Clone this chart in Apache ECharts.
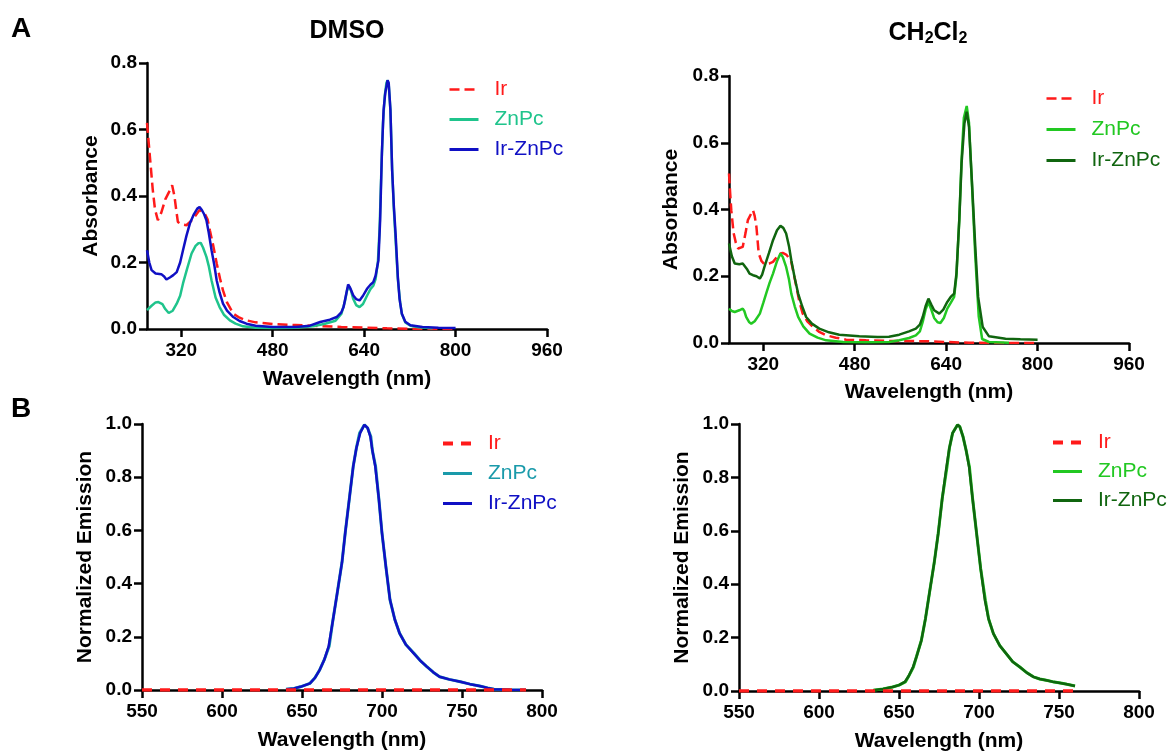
<!DOCTYPE html>
<html>
<head>
<meta charset="utf-8">
<script src="https://cdn.jsdelivr.net/npm/echarts@6/dist/echarts.min.js"></script>
<style>
  html, body { margin: 0; padding: 0; background: #fff; }
  #chart { width: 1170px; height: 753px; }
</style>
</head>
<body>
<div id="chart"></div>
<script>
// ---------- Absorbance, DMSO ----------
const absDmsoIrX = [260,263,266,270,274,279,285,292,298,304,308,311,314,320,329,340,352,360,366,370,376,382,388,393,400,411,422,434,450,480,520,560,600,640,680,720,760,800];
const absDmsoIrY = [0.62,0.56,0.50,0.42,0.36,0.327,0.35,0.39,0.41,0.432,0.40,0.36,0.322,0.315,0.312,0.33,0.358,0.35,0.33,0.297,0.25,0.197,0.15,0.116,0.08,0.046,0.034,0.026,0.02,0.015,0.012,0.009,0.006,0.004,0.002,0.001,0.0,0.0];

const absDmsoZnX = [260,268,275,280,287,292,298,305,312,318,323,330,338,345,350,354,358,364,368,373,380,387,395,405,415,428,450,480,520,550,570,590,600,606,610,613,617,621,626,632,638,645,651,656,660,664,667,670,673,676,679,681,683,686,689,692,695,699,703,706,712,721,735,760];
const absDmsoZnY = [0.057,0.07,0.08,0.081,0.075,0.06,0.048,0.055,0.076,0.1,0.137,0.18,0.227,0.25,0.258,0.259,0.245,0.217,0.19,0.146,0.095,0.066,0.042,0.026,0.016,0.008,0.004,0.003,0.004,0.008,0.015,0.025,0.045,0.08,0.115,0.13,0.115,0.09,0.072,0.066,0.075,0.1,0.12,0.13,0.15,0.2,0.3,0.47,0.62,0.7,0.74,0.748,0.735,0.66,0.48,0.36,0.27,0.15,0.08,0.045,0.02,0.01,0.005,0.002];

const absDmsoIrZnX = [260,264,268,275,285,290,294,300,306,312,318,323,329,335,342,348,352,356,360,364,368,373,378,382,387,393,400,411,422,434,450,480,520,545,563,580,592,600,604,608,612,616,621,626,632,638,645,651,656,660,665,668,671,674,677,681,683,686,689,692,695,699,702,706,712,721,742,770,800];
const absDmsoIrZnY = [0.237,0.2,0.177,0.167,0.165,0.158,0.149,0.155,0.162,0.171,0.2,0.237,0.28,0.317,0.345,0.362,0.367,0.358,0.345,0.327,0.29,0.237,0.19,0.146,0.11,0.076,0.055,0.036,0.024,0.016,0.01,0.006,0.006,0.01,0.021,0.028,0.036,0.05,0.066,0.1,0.134,0.122,0.101,0.09,0.086,0.1,0.121,0.133,0.141,0.16,0.207,0.327,0.527,0.658,0.71,0.748,0.74,0.658,0.477,0.37,0.287,0.156,0.09,0.046,0.022,0.011,0.006,0.004,0.003];

// ---------- Absorbance, CH2Cl2 ----------
const absDcmIrX = [260,262,264,268,272,276,284,289,293,298,302,305,308,312,317,322,330,337,345,350,354,360,365,369,373,378,383,389,397,407,418,430,447,465,500,540,580,610,640,680,720,760,800];
const absDcmIrY = [0.508,0.45,0.398,0.33,0.3,0.283,0.288,0.33,0.368,0.385,0.398,0.38,0.348,0.268,0.245,0.236,0.238,0.243,0.26,0.268,0.27,0.265,0.255,0.243,0.21,0.168,0.125,0.088,0.065,0.048,0.033,0.023,0.016,0.01,0.008,0.006,0.006,0.005,0.003,0.001,0.0,0.0,0.0];

const absDcmZnX = [260,265,270,278,284,287,290,295,299,305,314,320,325,331,337,344,350,354,360,365,369,375,381,390,401,415,430,460,500,540,558,575,587,594,599,604,609,614,619,625,630,636,642,648,654,658,663,667,671,676,680,685,691,697,703,715,750];
const absDcmZnY = [0.103,0.096,0.093,0.098,0.103,0.095,0.078,0.063,0.058,0.065,0.088,0.12,0.148,0.18,0.208,0.245,0.268,0.258,0.228,0.19,0.148,0.11,0.078,0.05,0.028,0.016,0.008,0.003,0.002,0.003,0.008,0.015,0.023,0.035,0.063,0.1,0.123,0.1,0.075,0.062,0.06,0.075,0.103,0.12,0.138,0.2,0.37,0.55,0.675,0.71,0.66,0.48,0.26,0.08,0.012,0.003,0.001];

const absDcmIrZnX = [260,265,270,278,284,287,292,296,302,308,314,318,322,330,337,344,350,355,360,365,369,375,381,388,395,405,418,435,453,488,520,540,558,575,587,594,599,604,609,614,619,628,635,642,648,654,658,663,667,672,676,680,685,691,696,704,715,744,770,800];
const absDcmIrZnY = [0.298,0.26,0.238,0.236,0.238,0.236,0.22,0.208,0.203,0.2,0.193,0.205,0.228,0.27,0.308,0.338,0.351,0.345,0.328,0.29,0.248,0.195,0.148,0.11,0.078,0.058,0.043,0.032,0.025,0.02,0.018,0.019,0.025,0.035,0.043,0.055,0.078,0.11,0.133,0.115,0.098,0.088,0.1,0.123,0.138,0.148,0.208,0.368,0.538,0.658,0.693,0.648,0.488,0.288,0.138,0.048,0.02,0.013,0.011,0.01];

// ---------- Emission, DMSO ----------
const emDmsoIrX = [550,600,650,700,750,790];
const emDmsoIrY = [0,0,0,0,0,0];

const emDmsoZnX = [640,645,649,655,658,661,664,667,669,672,675,677,680,682,684,686,689,691,693,694,696,698,700,702.5,705,708,711,715,720,724,728,732,736,742,749,755,761,766,770,780,790];
const emDmsoZnY = [0.003,0.006,0.012,0.025,0.045,0.075,0.115,0.165,0.25,0.364,0.48,0.59,0.74,0.84,0.91,0.966,0.997,0.985,0.953,0.9,0.84,0.72,0.59,0.46,0.339,0.265,0.213,0.17,0.138,0.11,0.088,0.067,0.05,0.04,0.031,0.022,0.015,0.008,0.003,0.001,0];

const emDmsoIrZnX = [640,645,649,655,658,661,664,666.6,669,672,675,677,680,682,684,686.4,689,691,692.7,694,695.8,698,700,702.5,705,708,711,715,719.8,724,728,732,736,742,749,755,761,766,770,780,790];
const emDmsoIrZnY = [0.003,0.006,0.012,0.025,0.045,0.075,0.115,0.163,0.25,0.364,0.48,0.59,0.74,0.84,0.91,0.966,0.997,0.985,0.953,0.9,0.84,0.72,0.59,0.46,0.339,0.265,0.213,0.17,0.138,0.11,0.088,0.067,0.05,0.04,0.031,0.022,0.015,0.008,0.003,0.001,0];

// ---------- Emission, CH2Cl2 ----------
const emDcmIrX = [550,600,650,700,760];
const emDcmIrY = [0,0,0,0,0];

const emDcmZnX = [634,640,646,650,654,656,659,661,664,666.5,669,672,674.5,677,680,681.5,683.5,686.6,688,690,692,694,696,698.5,701,704,706,709,713,717,721,725.5,730,734,738,742,746,751,755,760];
const emDcmZnY = [0.003,0.008,0.015,0.022,0.034,0.055,0.09,0.13,0.19,0.27,0.366,0.48,0.59,0.72,0.84,0.91,0.966,0.997,0.99,0.953,0.9,0.84,0.72,0.59,0.46,0.34,0.27,0.215,0.17,0.14,0.11,0.09,0.068,0.053,0.045,0.04,0.035,0.03,0.025,0.019];

const emDcmIrZnX = [634,640,646,650,653.6,656,658.8,661,664,666.5,669,672,674.5,677,679.7,681.5,683.5,686.6,688,690,692,693.8,696,698.5,701,703.7,706,709,713,717,721,725.5,730,734,738,742,746,750.6,755,760];
const emDcmIrZnY = [0.003,0.008,0.015,0.022,0.034,0.055,0.09,0.13,0.19,0.27,0.366,0.48,0.59,0.72,0.84,0.91,0.966,0.997,0.99,0.953,0.9,0.84,0.72,0.59,0.46,0.34,0.27,0.215,0.17,0.14,0.11,0.09,0.068,0.053,0.045,0.04,0.035,0.03,0.025,0.019];

// ---------- Axis ticks and labels ----------
const absTicksX = [320, 480, 640, 800, 960];
const seriesLabels = ['Ir', 'ZnPc', 'Ir-ZnPc'];

// ---------- Styling ----------
const FONT = '"Liberation Sans", Arial, Helvetica, sans-serif';
const RED = '#ff1a1a';
const C = {
  dmsoZn: '#1fc48c', dmsoIrZn: '#1010c4',
  dcmZn: '#22c822', dcmIrZn: '#10650f',
  emZn: '#1a9aaa'
};

const pair = (xs, ys) => xs.map((x, i) => [x, ys[i]]);

const grids = [
  { left: 147, top: 63, width: 400, height: 266 },
  { left: 729, top: 76, width: 400, height: 267 },
  { left: 142, top: 424, width: 400, height: 266 },
  { left: 739, top: 424, width: 400, height: 267 }
];

const axisLineStyle = { show: true, onZero: false, lineStyle: { color: '#000', width: 2.5 } };
const tickStyle = { show: true, inside: false, length: 8, lineStyle: { color: '#000', width: 2.5 } };
const tickLabel = { color: '#000', fontFamily: FONT, fontWeight: 'bold', fontSize: 19 };
const nameStyle = { color: '#000', fontFamily: FONT, fontWeight: 'bold', fontSize: 21 };

function xAxisAbs(gi, gap) {
  return {
    type: 'value', gridIndex: gi, min: 260, max: 960,
    axisLine: axisLineStyle,
    axisTick: Object.assign({ customValues: absTicksX }, tickStyle),
    axisLabel: Object.assign({ customValues: absTicksX, margin: 12 }, tickLabel),
    splitLine: { show: false },
    name: 'Wavelength (nm)', nameLocation: 'middle', nameGap: gap, nameTextStyle: nameStyle
  };
}
function xAxisEm(gi) {
  return {
    type: 'value', gridIndex: gi, min: 550, max: 800, interval: 50,
    axisLine: axisLineStyle, axisTick: tickStyle,
    axisLabel: Object.assign({ margin: 12, showMinLabel: true, showMaxLabel: true }, tickLabel),
    splitLine: { show: false },
    name: 'Wavelength (nm)', nameLocation: 'middle', nameGap: 40, nameTextStyle: nameStyle
  };
}
function yAxis(gi, max, name, gap) {
  return {
    type: 'value', gridIndex: gi, min: 0, max: max, interval: 0.2,
    axisLine: axisLineStyle, axisTick: tickStyle,
    axisLabel: Object.assign({ margin: 10, formatter: v => v.toFixed(1) }, tickLabel),
    splitLine: { show: false },
    name: name, nameLocation: 'middle', nameGap: gap, nameTextStyle: nameStyle
  };
}

function line(name, gi, xs, ys, color, opts) {
  opts = opts || {};
  return {
    type: 'line', name: name, xAxisIndex: gi, yAxisIndex: gi,
    data: pair(xs, ys), symbol: 'none', showSymbol: false, animation: false,
    lineStyle: { color: color, width: opts.width || 2.5, type: opts.dash || 'solid' },
    itemStyle: { color: color },
    z: opts.z || 2
  };
}

// legend entries keep a panel tag after '@' so each panel gets its own colours
function legend(tag, colors, left, top, gap, irWidth) {
  return {
    left: left, top: top, orient: 'vertical', padding: 0,
    itemWidth: 29, itemHeight: 14, itemGap: gap, selectedMode: false,
    itemStyle: { opacity: 0 },
    lineStyle: { width: 3 },
    formatter: n => n.split('@')[0],
    textStyle: { fontFamily: FONT, fontSize: 21, padding: [0, 0, 0, 11] },
    data: seriesLabels.map((s, i) => ({
      name: s + '@' + tag,
      textStyle: { color: colors[i] },
      lineStyle: { width: i === 0 ? irWidth : 3 }
    }))
  };
}

const option = {
  backgroundColor: '#fff',
  animation: false,
  grid: grids,
  xAxis: [xAxisAbs(0, 40), xAxisAbs(1, 39), xAxisEm(2), xAxisEm(3)],
  yAxis: [
    yAxis(0, 0.8, 'Absorbance', 45),
    yAxis(1, 0.8, 'Absorbance', 47),
    yAxis(2, 1.0, 'Normalized Emission', 46),
    yAxis(3, 1.0, 'Normalized Emission', 46)
  ],
  legend: [
    legend('a', [RED, C.dmsoZn, C.dmsoIrZn], 448, 79, 9, 2.5),
    legend('b', [RED, C.dcmZn, C.dcmIrZn], 1045, 88, 10, 2.5),
    legend('c', [RED, C.emZn, C.dmsoIrZn], 441, 433, 9, 4),
    legend('d', [RED, C.dcmZn, C.dcmIrZn], 1051, 432, 8, 4)
  ],
  series: [
    line('Ir@a', 0, absDmsoIrX, absDmsoIrY, RED, { dash: [10, 5] }),
    line('ZnPc@a', 0, absDmsoZnX, absDmsoZnY, C.dmsoZn),
    line('Ir-ZnPc@a', 0, absDmsoIrZnX, absDmsoIrZnY, C.dmsoIrZn),

    line('Ir@b', 1, absDcmIrX, absDcmIrY, RED, { dash: [10, 5] }),
    line('ZnPc@b', 1, absDcmZnX, absDcmZnY, C.dcmZn),
    line('Ir-ZnPc@b', 1, absDcmIrZnX, absDcmIrZnY, C.dcmIrZn),

    line('ZnPc@c', 2, emDmsoZnX, emDmsoZnY, C.emZn, { width: 3 }),
    line('Ir-ZnPc@c', 2, emDmsoIrZnX, emDmsoIrZnY, C.dmsoIrZn),
    line('Ir@c', 2, emDmsoIrX, emDmsoIrY, RED, { dash: [10, 8], width: 3.5, z: 3 }),

    line('ZnPc@d', 3, emDcmZnX, emDcmZnY, C.dcmZn, { width: 3 }),
    line('Ir-ZnPc@d', 3, emDcmIrZnX, emDcmIrZnY, C.dcmIrZn),
    line('Ir@d', 3, emDcmIrX, emDcmIrY, RED, { dash: [10, 8], width: 3.5, z: 3 })
  ],
  graphic: [
    { type: 'text', left: 11, top: 15, style: { text: 'A', font: 'bold 28px ' + FONT, fill: '#000' } },
    { type: 'text', left: 11, top: 395, style: { text: 'B', font: 'bold 28px ' + FONT, fill: '#000' } },
    { type: 'text', x: 347, y: 31, style: { text: 'DMSO', font: 'bold 25px ' + FONT, fill: '#000', align: 'center', verticalAlign: 'middle' } },
    {
      type: 'text', x: 928, y: 34,
      style: {
        text: '{t|CH}{s|2}{t|Cl}{s|2}',
        align: 'center', verticalAlign: 'middle', fill: '#000',
        rich: {
          t: { fontFamily: FONT, fontWeight: 'bold', fontSize: 25, lineHeight: 26, verticalAlign: 'top', fill: '#000' },
          s: { fontFamily: FONT, fontWeight: 'bold', fontSize: 16, lineHeight: 18, padding: [13, 0, 0, 0], verticalAlign: 'bottom', fill: '#000' }
        }
      }
    }
  ]
};

const chart = echarts.init(document.getElementById('chart'), null, { renderer: 'canvas' });
chart.setOption(option);
</script>
</body>
</html>
